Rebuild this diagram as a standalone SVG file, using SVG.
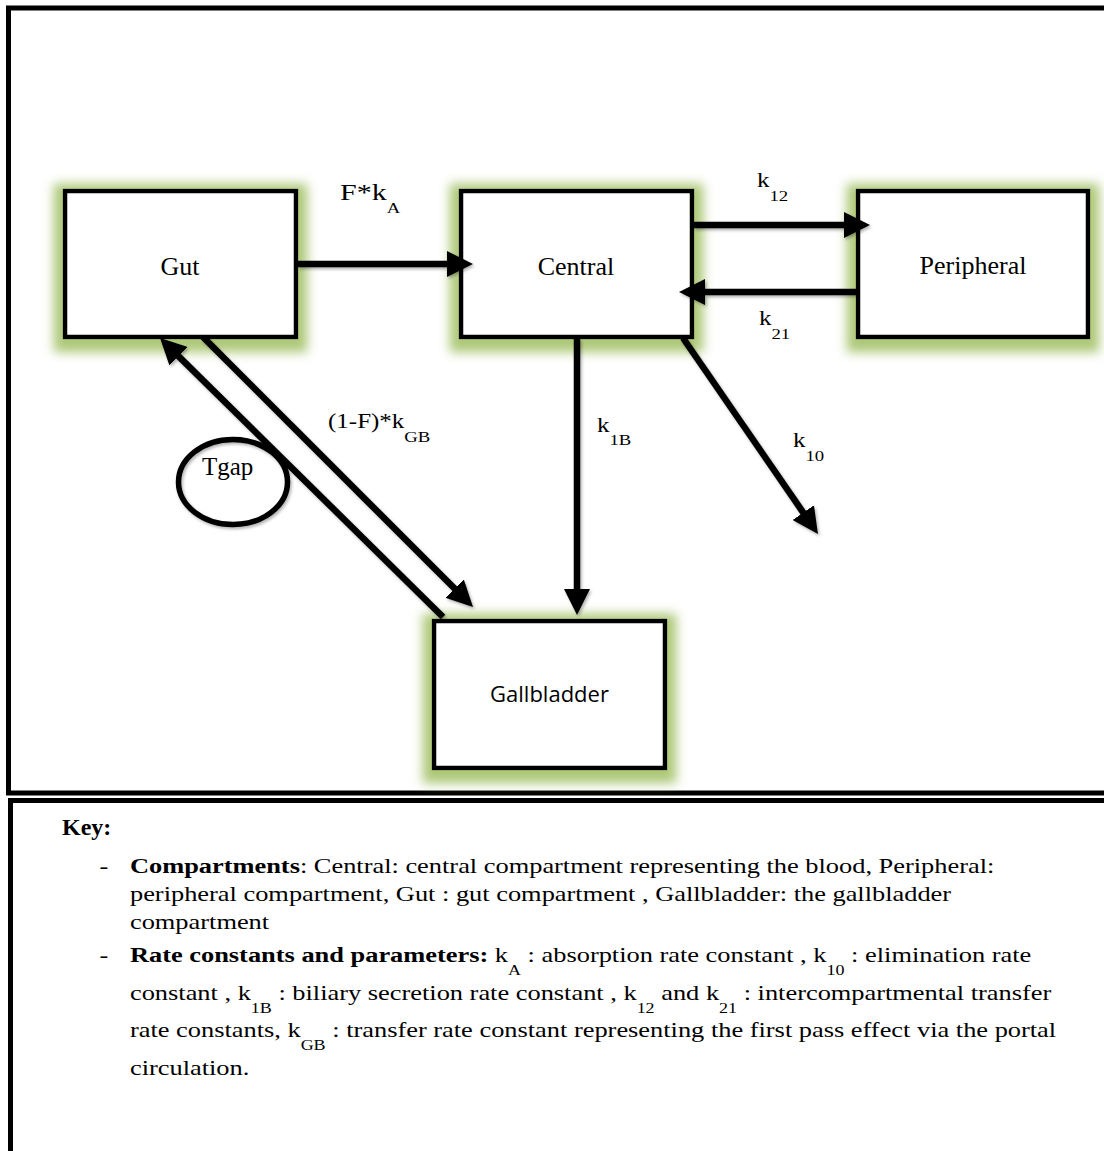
<svg xmlns="http://www.w3.org/2000/svg" width="1104" height="1151" viewBox="0 0 1104 1151">
<defs>
<style>
.box{fill:#fff;stroke:#000;stroke-width:4.5;filter:url(#glow)}
.lbl{font-family:"Liberation Serif","Times New Roman",serif;fill:#000}
.conn{stroke:#000;stroke-width:6.5;fill:none;marker-end:url(#ah);filter:url(#sh)}
.frame{fill:none;stroke:#000;stroke-width:5}
.key{font-family:"Liberation Serif","Times New Roman",serif;font-size:22px;fill:#000}
.sub{font-size:15px}
</style>
<filter id="glow" x="-25%" y="-30%" width="150%" height="165%">
<feMorphology in="SourceAlpha" operator="dilate" radius="9" result="d"/>
<feGaussianBlur in="d" stdDeviation="5.5" result="b"/>
<feOffset in="b" dy="4" result="bo"/>
<feFlood flood-color="#a9c571" flood-opacity="0.95"/>
<feComposite in2="bo" operator="in" result="g"/>
<feMerge><feMergeNode in="g"/><feMergeNode in="SourceGraphic"/></feMerge>
</filter>
<filter id="sh" filterUnits="userSpaceOnUse" x="0" y="0" width="1104" height="1151">
<feDropShadow dx="1.5" dy="2" stdDeviation="1.5" flood-color="#000" flood-opacity="0.3"/>
</filter>
<marker id="ah" viewBox="0 0 4 4" markerWidth="4" markerHeight="4" refX="2" refY="2" orient="auto" markerUnits="strokeWidth">
<path d="M0,0 L4,2 L0,4 z" fill="#000"/>
</marker>
</defs>
<rect width="1104" height="1151" fill="#fff"/>
<rect class="frame" x="8.5" y="8" width="1110" height="785"/>
<rect class="frame" x="10.5" y="800.5" width="1110" height="400"/>

<g id="gut"><rect class="box" x="65" y="191" width="231" height="146"/><text class="lbl" x="180" y="275" font-size="26" text-anchor="middle">Gut</text></g>
<g id="central"><rect class="box" x="461" y="191" width="231" height="146"/><text class="lbl" x="576" y="275" font-size="26" text-anchor="middle">Central</text></g>
<g id="peripheral"><rect class="box" x="858" y="191" width="230" height="146"/><text class="lbl" x="973" y="274" font-size="26" text-anchor="middle">Peripheral</text></g>
<g id="gallbladder"><rect class="box" x="434" y="621" width="231" height="147"/><text x="549.5" y="702" font-family="'Open Sans','DejaVu Sans',sans-serif" font-size="22" text-anchor="middle" fill="#000">Gallbladder</text></g>
<g id="tgap"><ellipse cx="233" cy="482" rx="54.5" ry="42.5" fill="none" stroke="#000" stroke-width="5.5" filter="url(#sh)"/><text class="lbl" x="202" y="475" font-size="25">Tgap</text></g>

<g id="connectors">
<line class="conn" x1="298" y1="264" x2="460" y2="264"/>
<line class="conn" x1="694" y1="225" x2="857" y2="225"/>
<line class="conn" x1="856" y1="292" x2="692" y2="292"/>
<line class="conn" x1="577" y1="339" x2="577" y2="602"/>
<line class="conn" x1="683" y1="338" x2="810.6" y2="523.3"/>
<line class="conn" x1="203" y1="337" x2="463.8" y2="597.8"/>
<line class="conn" x1="443" y1="617" x2="169.3" y2="347.1"/>
</g>

<g id="labels" class="lbl">
<text transform="translate(340,200) scale(1.25,1)" font-size="24">F*k<tspan dy="13" font-size="15">A</tspan></text>
<text transform="translate(757,187) scale(1.25,1)" font-size="20">k<tspan dy="14" font-size="15">12</tspan></text>
<text transform="translate(759,325) scale(1.25,1)" font-size="20">k<tspan dy="14" font-size="15">21</tspan></text>
<text transform="translate(597,432) scale(1.25,1)" font-size="20">k<tspan dy="13" font-size="15">1B</tspan></text>
<text transform="translate(793,447) scale(1.25,1)" font-size="20">k<tspan dy="14" font-size="15">10</tspan></text>
<text transform="translate(328,428) scale(1.25,1)" font-size="20">(1-F)*k<tspan dy="14" font-size="15">GB</tspan></text>
</g>

<g id="key" class="key">
<text x="62" y="835" font-weight="bold" font-size="24">Key:</text>
<g transform="scale(1.2,1)">
<text x="83" y="873">-</text>
<text x="108.3" y="873"><tspan font-weight="bold">Compartments</tspan>: Central: central compartment representing the blood, Peripheral:</text>
<text x="108.3" y="901">peripheral compartment, Gut : gut compartment , Gallbladder: the gallbladder</text>
<text x="108.3" y="929">compartment</text>
<text x="83" y="962">-</text>
<text x="108.3" y="962"><tspan font-weight="bold">Rate constants and parameters:</tspan> k<tspan class="sub" dy="13">A</tspan><tspan dy="-13"> : absorption rate constant , k</tspan><tspan class="sub" dy="13">10</tspan><tspan dy="-13"> : elimination rate</tspan></text>
<text x="108.3" y="1000">constant , k<tspan class="sub" dy="13">1B</tspan><tspan dy="-13"> : biliary secretion rate constant , k</tspan><tspan class="sub" dy="13">12</tspan><tspan dy="-13"> and k</tspan><tspan class="sub" dy="13">21</tspan><tspan dy="-13"> : intercompartmental transfer</tspan></text>
<text x="108.3" y="1037">rate constants, k<tspan class="sub" dy="13">GB</tspan><tspan dy="-13"> : transfer rate constant representing the first pass effect via the portal</tspan></text>
<text x="108.3" y="1075">circulation.</text>
</g>
</g>
</svg>
